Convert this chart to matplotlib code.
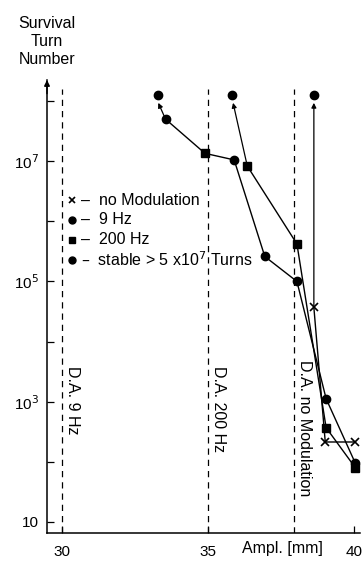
import numpy as np
import matplotlib.pyplot as plt

plt.rcParams['font.family'] = ['Liberation Sans', 'DejaVu Sans']
plt.rcParams['font.size'] = 11.5

# amplitudes in mm, survival turns
amp_9hz = [33.55, 35.9, 36.95, 38.05, 39.05, 40.05]
turns_9hz = [5.0e7, 1.05e7, 2.6e5, 1.0e5, 1.12e3, 95]

amp_200hz = [34.9, 36.35, 38.05, 39.05, 40.05]
turns_200hz = [1.35e7, 8.3e6, 4.2e5, 370, 80]

amp_nomod = [38.63, 39.02, 40.05]
turns_nomod = [3.7e4, 214, 214]

amp_stable = [33.28, 35.82, 38.63]
turns_stable = [1.26e8, 1.26e8, 1.26e8]

# dynamic aperture positions
da_amp = [30.0, 35.0, 37.95]
da_labels = ['D.A. 9 Hz', 'D.A. 200 Hz', 'D.A. no Modulation']
da_label_top = [10 ** 3.6, 10 ** 3.6, 10 ** 3.7]

fig = plt.figure(figsize=(3.63, 5.66), dpi=100)
ax = fig.add_axes([47 / 363, 1 - 533 / 566, 313 / 363, 453 / 566])
ax.set_yscale('log')
ax.set_xlim(29.49, 40.21)
ax.set_ylim(10 ** 0.817, 10 ** 8.35)

lw = 1.0
for xa, lab, yt in zip(da_amp, da_labels, da_label_top):
    ax.plot([xa, xa], [10 ** 0.817, 10 ** 8.2], color='black', lw=0.9,
            dashes=(5, 4))
    ax.text(xa + 0.1, yt, lab, rotation=-90, ha='left', va='top',
            fontsize=11.5)

# 9 Hz curve runs through the first 200 Hz point
path_amp = [amp_9hz[0], amp_200hz[0]] + amp_9hz[1:]
path_turns = [turns_9hz[0], turns_200hz[0]] + turns_9hz[1:]
ax.plot(path_amp, path_turns, color='black', lw=lw)
ax.plot(amp_200hz[1:], turns_200hz[1:], color='black', lw=lw)
ax.plot(amp_nomod, turns_nomod, color='black', lw=lw)

# arrows up to the stable points
starts = [(amp_9hz[0], turns_9hz[0]), (amp_200hz[1], turns_200hz[1]),
          (amp_nomod[0], turns_nomod[0])]
for (x0, y0), x1, y1 in zip(starts, amp_stable, turns_stable):
    ax.annotate('', xy=(x1 + (x0 - x1) * 0.08, y1 / 10 ** 0.13), xytext=(x0, y0),
                arrowprops=dict(arrowstyle='-|>', color='black', lw=0.9,
                                mutation_scale=7, shrinkA=0, shrinkB=0))

ax.plot(amp_9hz, turns_9hz, 'o', color='black', ms=6)
ax.plot(amp_200hz, turns_200hz, 's', color='black', ms=6)
ax.plot(amp_nomod, turns_nomod, 'x', color='black', ms=6, mew=1.2)
ax.plot(amp_stable, turns_stable, 'o', color='black', ms=6)

# legend as plain text
leg_rows = [('x', '–  no Modulation'), ('o', '–  9 Hz'), ('s', '–  200 Hz'),
            ('o', '–  stable > 5 x10$^7$ Turns')]
for i, (m, txt) in enumerate(leg_rows):
    yf = 1 - (200 + i * 20) / 566
    fig.lines.append(plt.Line2D([72 / 363], [yf], marker=m, color='black',
                                ms=5, mew=1.2 if m == 'x' else 1,
                                transform=fig.transFigure))
    fig.text(81 / 363, yf, txt, ha='left', va='center', fontsize=11.5)

ax.spines['top'].set_visible(False)
ax.spines['right'].set_visible(False)
ax.spines['left'].set_linewidth(1.1)
ax.spines['bottom'].set_linewidth(1.1)
ax.set_yticks([10, 1e3, 1e5, 1e7])
ax.set_yticklabels(['10', '10$^3$', '10$^5$', '10$^7$'])
ax.set_yticks([1e2, 1e4, 1e6, 1e8], minor=True)
ax.yaxis.set_minor_formatter(plt.NullFormatter())
ax.tick_params(axis='y', which='both', direction='in', length=5, width=0.9,
               labelsize=11, pad=6)
ax.set_xticks([30, 35, 40])
ax.tick_params(axis='x', direction='in', length=5, width=0.9, labelsize=11,
               pad=9)

ax.annotate('', xy=(0, 1.0), xytext=(0, 0.97), xycoords='axes fraction',
            arrowprops=dict(arrowstyle='-|>', color='black', lw=1.1,
                            mutation_scale=8, shrinkA=0, shrinkB=0))

fig.text(47 / 363, 1 - 41 / 566, 'Survival\nTurn\nNumber', ha='center',
         va='center', fontsize=11.5, linespacing=1.25)
fig.text(282 / 363, 1 - 549 / 566, 'Ampl. [mm]', ha='center', va='center',
         fontsize=11.5)

fig.savefig('out.png', dpi=100)
